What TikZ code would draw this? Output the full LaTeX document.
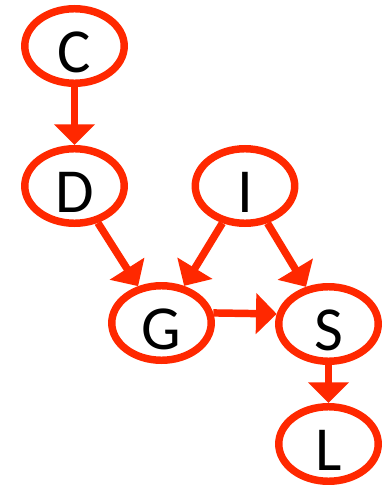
\documentclass[tikz,border=0pt]{standalone}
\usepackage{fontspec}
\setmainfont{Carlito}
\usetikzlibrary{arrows.meta,shapes.geometric}
\definecolor{netred}{RGB}{255,40,0}
\begin{document}
\begin{tikzpicture}[x=0.75pt,y=-0.75pt,
  var/.style={ellipse, draw=netred, line width=5.6pt, inner sep=0pt,
    minimum width=74.6pt, minimum height=55.9pt,
    font=\fontsize{47}{50}\selectfont, text height=39.5pt, text depth=0pt},
  edge/.style={draw=netred, line width=5.6pt,
    -{Triangle[length=15.5pt,width=30pt]}}]
  \useasboundingbox (0,0) rectangle (385,485);
  \node[var] (C) at (74.5,46)  {C};
  \node[var] (D) at (74.5,186) {D};
  \node[var] (I) at (245,186)  {I};
  \node[var] (G) at (161.5,323) {G};
  \node[var] (S) at (328.5,324) {S};
  \node[var] (L) at (328.5,444) {L};
  \draw[edge] (C) -- (D);
  \draw[edge] (D) -- (G);
  \draw[edge] (I) -- (G);
  \draw[edge] (I) -- (S);
  \draw[edge] (G.11) -- (S.169);
  \draw[edge] (S) -- (L);
\end{tikzpicture}
\end{document}
